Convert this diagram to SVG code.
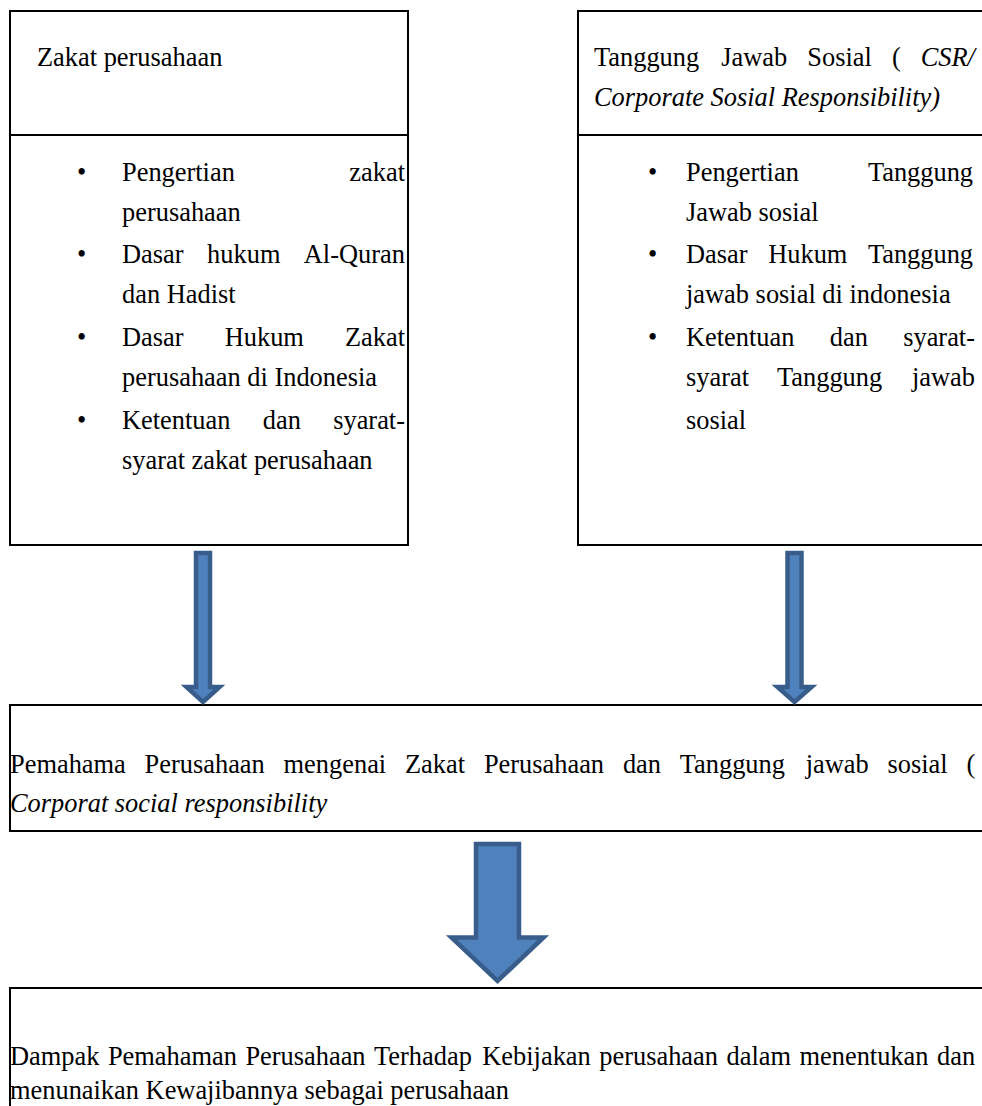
<svg xmlns="http://www.w3.org/2000/svg" width="982" height="1106" viewBox="0 0 982 1106">
<style>
.box{fill:#fff;stroke:#000;stroke-width:2}
.t{font-family:"Liberation Serif","Times New Roman",serif;font-size:26.4px;fill:#000}
.i{font-style:italic}
.arr{fill:#4F81BD;stroke:#385D8A;stroke-width:4.5;stroke-linejoin:miter}
</style>
<rect width="982" height="1106" fill="#fff"/>
<g id="zakat">
<rect class="box" x="10" y="11" width="398" height="534"/>
<line x1="10" y1="135" x2="408" y2="135" stroke="#000" stroke-width="2"/>
<text class="t" x="37" y="66">Zakat perusahaan</text>
<g class="t">
<text x="77" y="181">•</text><text x="77" y="263">•</text><text x="77" y="346">•</text><text x="77" y="429">•</text>
</g>
<text class="t" y="181"><tspan x="122">Pengertian</tspan><tspan x="349.3">zakat</tspan></text>
<text class="t" x="122" y="221">perusahaan</text>
<text class="t" y="263"><tspan x="122">Dasar</tspan><tspan x="207.1">hukum</tspan><tspan x="303.8">Al-Quran</tspan></text>
<text class="t" x="122" y="303">dan Hadist</text>
<text class="t" y="346"><tspan x="122">Dasar</tspan><tspan x="224.7">Hukum</tspan><tspan x="344.9">Zakat</tspan></text>
<text class="t" x="122" y="386">perusahaan di Indonesia</text>
<text class="t" y="429"><tspan x="122">Ketentuan</tspan><tspan x="262.8">dan</tspan><tspan x="333.2">syarat-</tspan></text>
<text class="t" x="122" y="469">syarat zakat perusahaan</text>
</g>
<g id="csr">
<rect class="box" x="578" y="11" width="410" height="534"/>
<line x1="578" y1="135" x2="988" y2="135" stroke="#000" stroke-width="2"/>
<text class="t" y="66"><tspan x="594">Tanggung</tspan><tspan x="721.2">Jawab</tspan><tspan x="807.3">Sosial</tspan><tspan x="891.9">(</tspan><tspan x="920.7" class="i">CSR/</tspan></text>
<text class="t i" x="594" y="106">Corporate Sosial Responsibility)</text>
<g class="t">
<text x="648" y="181">•</text><text x="648" y="263">•</text><text x="648" y="346">•</text>
</g>
<text class="t" y="181"><tspan x="686">Pengertian</tspan><tspan x="867.9">Tanggung</tspan></text>
<text class="t" x="686" y="221">Jawab sosial</text>
<text class="t" y="263"><tspan x="686">Dasar</tspan><tspan x="768.2">Hukum</tspan><tspan x="867.9">Tanggung</tspan></text>
<text class="t" x="686" y="303">jawab sosial di indonesia</text>
<text class="t" y="346"><tspan x="686">Ketentuan</tspan><tspan x="829.8">dan</tspan><tspan x="903.2">syarat-</tspan></text>
<text class="t" y="386"><tspan x="686">syarat</tspan><tspan x="777">Tanggung</tspan><tspan x="912">jawab</tspan></text>
<text class="t" x="686" y="429">sosial</text>
</g>
<g id="pemahaman">
<rect class="box" x="10" y="705" width="990" height="126"/>
<text class="t" y="773"><tspan x="10">Pemahama</tspan><tspan x="144.6">Perusahaan</tspan><tspan x="283.6">mengenai</tspan><tspan x="405">Zakat</tspan><tspan x="483.9">Perusahaan</tspan><tspan x="622.9">dan</tspan><tspan x="679.8">Tanggung</tspan><tspan x="805.7">jawab</tspan><tspan x="887.5">sosial</tspan><tspan x="966.4">(</tspan></text>
<text class="t i" x="10" y="812">Corporat social responsibility</text>
</g>
<g id="dampak">
<rect class="box" x="10" y="988" width="990" height="140"/>
<text class="t" y="1065"><tspan x="10">Dampak</tspan><tspan x="107.9">Pemahaman</tspan><tspan x="245.4">Perusahaan</tspan><tspan x="374.1">Terhadap</tspan><tspan x="482.3">Kebijakan</tspan><tspan x="599.3">perusahaan</tspan><tspan x="726.5">dalam</tspan><tspan x="799.5">menentukan</tspan><tspan x="937">dan</tspan></text>
<text class="t" x="10" y="1099">menunaikan Kewajibannya sebagai perusahaan</text>
</g>
<g id="connectors">
<path class="arr" d="M196,553 H210 V687 H219.5 L203,702 L186.5,687 H196 Z"/>
<path class="arr" d="M787.5,553 H801.5 V687 H811.5 L794.5,702 L777.5,687 H787.5 Z"/>
<path class="arr" d="M476,844 H519 V937.5 H543.5 L497.5,981 L451.5,937.5 H476 Z"/>
</g>
</svg>
